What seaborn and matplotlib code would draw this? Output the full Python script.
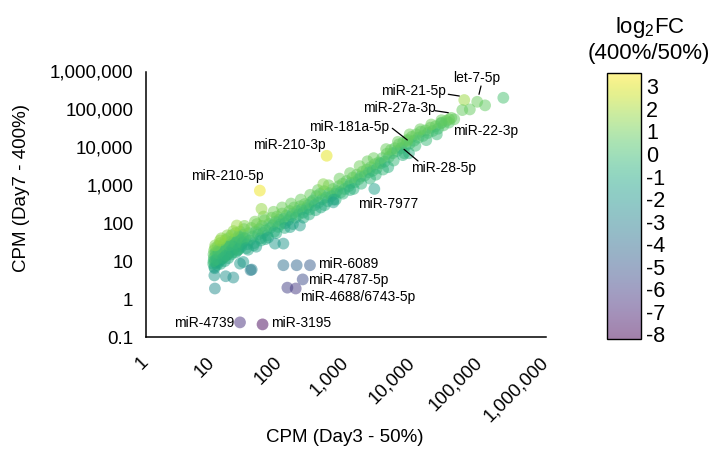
import numpy as np
import pandas as pd
import matplotlib
matplotlib.use("Agg")
import matplotlib.pyplot as plt
import seaborn as sns
from matplotlib.colors import Normalize, ListedColormap
from matplotlib.cm import ScalarMappable
from matplotlib.lines import Line2D
from matplotlib.ticker import FixedLocator, FuncFormatter, NullLocator

# ---------------- data (CPM values) ----------------
low_day3 = [10.2, 10.4, 10.3, 10.6, 10.5, 10.8, 11.0, 10.9, 11.3, 11.5,
            11.8, 12.0, 12.2, 12.5, 12.4, 12.9, 13.0, 13.4, 13.8, 14.0,
            14.2, 14.6, 15.0, 15.3, 15.6, 16.0, 16.4, 16.8, 17.0, 17.5,
            18.0, 18.4, 18.8, 19.2, 19.8, 20.3, 20.8, 21.5, 22.0, 22.6,
            23.0, 23.8, 24.5, 25.0, 25.8, 26.5, 27.0, 28.0, 28.8, 29.5,
            10.7, 11.6, 12.7, 13.6, 14.8, 16.2, 17.8, 19.5, 21.0, 23.5,
            11.1, 12.3, 13.2, 15.2, 17.2, 19.0, 22.3, 24.8, 26.8, 29.0,
            10.3, 11.4, 12.1, 13.3, 14.4, 15.8, 17.6, 19.9, 21.8, 24.1,
            26.0, 27.8, 10.9, 13.5, 16.6, 20.5]
low_day7 = [8.5, 12, 15, 7.0, 19, 10, 13.5, 22, 9.0, 16,
            11, 25, 14, 9.5, 18, 13, 30, 16, 12, 22,
            17, 28, 14, 20, 36, 18, 24, 15, 40, 22,
            26, 19, 33, 48, 23, 30, 21, 38, 55, 27,
            34, 25, 45, 31, 60, 36, 28, 50, 40, 70,
            6.5, 8.0, 10.5, 11.5, 13, 15, 17, 20, 24, 19,
            17, 20, 8.5, 10, 12, 15, 17, 21, 24, 33,
            10, 11, 16, 19, 12, 14, 26, 17, 30, 20,
            42, 30, 26, 40, 48, 62]
low_fc = [-0.3, 0.2, 0.5, -0.8, 1.0, -0.2, 0.2, 1.3, -0.3, 0.5,
          -0.2, 1.1, 0.1, -0.5, 0.5, -0.1, 1.2, 0.1, -0.3, 0.4,
          0.2, 0.9, -0.3, 0.2, 1.1, 0.0, 0.3, -0.4, 1.1, 0.2,
          0.3, -0.1, 0.5, 1.0, 0.0, 0.2, -0.2, 0.5, 1.1, 0.1,
          0.3, -0.2, 0.5, 0.0, 0.8, 0.1, -0.2, 0.5, 0.2, 0.8,
          -1.3, -1.1, -0.8, -0.9, -0.8, -0.7, -0.8, -0.6, -0.5, -1.1,
          0.4, 0.4, -1.1, -1.1, -1.0, -0.8, -0.9, -0.7, -0.6, -0.2,
          -0.2, -0.3, 0.0, 0.1, -0.5, -0.4, 0.1, -0.4, 0.0, -0.4,
          0.2, -0.2, 1.4, 1.5, 1.5, 1.5]

mid_day3 = [31, 33, 35, 36, 38, 40, 42, 44, 46, 48,
            50, 52, 55, 57, 60, 63, 66, 70, 73, 77,
            80, 84, 88, 92, 96, 100, 105, 110, 116, 122,
            128, 135, 142, 150, 158, 166, 175, 185, 195, 205,
            215, 228, 240, 255, 270, 285, 300, 34, 45, 62,
            32, 41, 53, 68, 90, 120, 160, 230, 280,
            30, 43, 58, 82, 110, 150, 210, 290]
mid_day7 = [40, 28, 55, 35, 75, 45, 30, 60, 95, 50,
            70, 40, 85, 55, 120, 65, 48, 95, 75, 140,
            88, 60, 110, 150, 80, 125, 95, 180, 130, 100,
            160, 120, 210, 150, 180, 260, 140, 210, 170, 280,
            230, 190, 320, 250, 300, 230, 360, 20, 24, 38,
            22, 26, 35, 42, 55, 75, 95, 140, 170,
            85, 110, 150, 200, 260, 330, 420, 560]
mid_fc = [0.1, -0.4, 0.5, -0.1, 0.9, 0.1, -0.5, 0.4, 1.0, 0.0,
          0.4, -0.4, 0.6, 0.0, 0.9, 0.1, -0.4, 0.4, 0.0, 0.9,
          0.1, -0.6, 0.3, 0.7, -0.2, 0.2, -0.1, 0.8, 0.1, -0.3,
          0.3, -0.1, 0.6, 0.0, 0.1, 0.8, -0.3, 0.2, -0.1, 0.5,
          0.1, -0.3, 0.6, 0.0, 0.2, -0.2, 0.3, -1.3, -1.5, -1.1,
          -0.9, -1.0, -0.9, -1.0, -0.9, -0.8, -0.9, -0.8, -0.7,
          1.3, 1.2, 1.1, 1.1, 1.0, 0.9, 0.9, 0.9]

upper_day3 = [320, 340, 360, 385, 410, 440, 470, 500, 530, 560,
              600, 640, 680, 730, 780, 830, 890, 950, 1020, 1100,
              1180, 1260, 1350, 1450, 1550, 1660, 1780, 1900, 2050, 2200,
              2350, 2500, 2700, 2900, 3100, 420, 650, 1150,
              350, 480, 700, 900, 1300, 1700, 2300, 2800,
              380, 550, 800, 1150, 1600, 2100, 2600]
upper_day7 = [400, 300, 520, 350, 600, 430, 700, 480, 380, 620,
              520, 800, 600, 700, 950, 650, 1100, 800, 1300, 950,
              1150, 1600, 1200, 1900, 1450, 1700, 2300, 1800, 2600, 2200,
              3000, 2400, 3600, 2800, 4000, 260, 420, 750,
              220, 300, 420, 600, 800, 1100, 1500, 1900,
              750, 1000, 1500, 2100, 3200, 4300, 5200]
upper_fc = [0.2, -0.3, 0.4, -0.2, 0.5, 0.0, 0.6, 0.1, -0.4, 0.3,
            0.0, 0.6, 0.1, 0.1, 0.6, -0.2, 0.7, 0.0, 0.6, 0.0,
            0.1, 0.7, 0.0, 0.7, 0.2, 0.2, 0.7, 0.1, 0.6, 0.2,
            0.5, 0.0, 0.6, 0.0, 0.6, -1.0, -1.0, -0.7,
            -0.7, -0.8, -0.6, -0.5, -0.6, -0.5, -0.5, -0.4,
            0.9, 1.0, 0.9, 0.9, 1.0, 0.9, 0.9]

high_day3 = [3300, 3500, 3800, 4100, 4400, 4700, 5000, 5400, 5800, 6200,
             6700, 7200, 7800, 8400, 9000, 9700, 10500, 11300, 12200, 13200,
             14300, 15500, 17000, 18500, 20000, 22000, 24000, 26500, 29000, 32000,
             35000, 38000, 42000, 4300, 8800,
             3600, 5200, 7500, 11000, 16000, 23000,
             4000, 6000, 9000, 13000, 19000, 27000]
high_day7 = [3800, 5200, 4200, 6800, 5600, 8500, 7000, 9500, 8000, 12000,
             9500, 13500, 11000, 16000, 12500, 19000, 15000, 22000, 18000, 26000,
             20000, 28000, 24000, 33000, 27000, 36000, 31000, 43000, 38000, 50000,
             45000, 60000, 55000, 3000, 7000,
             2600, 4500, 7000, 11000, 15500, 22000,
             9000, 14000, 22000, 30000, 40000, 52000]
high_fc = [0.1, 0.6, 0.0, 0.7, 0.2, 0.8, 0.3, 0.6, 0.2, 0.8,
           0.2, 0.6, 0.1, 0.7, 0.1, 0.7, 0.2, 0.7, 0.2, 0.7,
           0.2, 0.6, 0.2, 0.7, 0.2, 0.6, 0.1, 0.6, 0.3, 0.7,
           0.4, 0.9, 0.7, -0.7, -0.8,
           -0.4, -0.3, -0.3, -0.2, -0.2, -0.2,
           0.9, 0.9, 1.0, 0.9, 1.0, 0.9]

off_day3 = [10.8, 10.6, 15.7, 20.4, 38.5, 37, 28.8, 25.7, 115, 86, 204, 145, 645,
            23, 54, 12.9, 457]
off_day7 = [1.9, 4.2, 4.0, 3.7, 6.0, 5.8, 9.5, 8.6, 29, 29, 87, 79, 355,
            87, 239, 35, 1070]
off_fc = [-2.5, -2.0, -2.2, -2.3, -3.0, -3.2, -1.8, -1.8, -2.0, -1.8, -1.6, -1.4, -1.5,
          1.8, 1.7, 1.7, 1.4]

top_names = ["miR-210-5p", "miR-210-3p", "miR-21-5p", "let-7-5p", "let-7-5p",
             "", "", "", "miR-27a-3p", "miR-22-3p", "miR-181a-5p", "miR-28-5p",
             "miR-7977", "miR-6089", "miR-6089", "miR-6089", "miR-4787-5p",
             "miR-4688/6743-5p", "miR-4688/6743-5p", "miR-4739", "miR-3195"]
top_day3 = [51, 513, 59400, 93000, 122000,
            72000, 55500, 229000, 35300, 27200, 8300, 7100,
            2660, 115, 182, 288, 224,
            132, 176, 25.7, 56]
top_day7 = [724, 6000, 177000, 159000, 128000,
            100000, 96000, 203000, 55000, 44900, 14800, 6240,
            800, 7.8, 7.8, 7.8, 3.3,
            2.0, 1.9, 0.243, 0.215]
top_fc = [3.3, 3.1, 1.8, 0.9, 0.7,
          0.8, 0.8, 0.1, 0.9, 0.6, 0.8, -0.6,
          -1.5, -3.8, -4.3, -4.8, -5.5,
          -6.0, -6.3, -6.6, -8.0]

axis_ticks = [0.1, 1, 10, 100, 1000, 10000, 100000, 1000000]
cbar_ticks = list(range(-8, 4))
fc_range = (-8.2, 3.6)

# ---------------- layout (figure pixels) ----------------
label_text_px = {
    "let-7-5p": (453, 78), "miR-21-5p": (381, 91), "miR-27a-3p": (362.7, 107.7),
    "miR-22-3p": (452.7, 131), "miR-181a-5p": (309.3, 126.7), "miR-28-5p": (410.7, 168.3),
    "miR-210-3p": (252.7, 145), "miR-210-5p": (190.7, 176), "miR-7977": (358.3, 204),
    "miR-6089": (318, 264.5), "miR-4787-5p": (308.3, 280), "miR-4688/6743-5p": (300, 296.5),
    "miR-4739": (174, 323.3), "miR-3195": (271, 323.3),
}
leader_px = {
    "let-7-5p": ((481, 86), (479, 94.3)),
    "miR-21-5p": ((448.3, 94.3), (459.3, 96)),
    "miR-27a-3p": ((435, 110.7), (448.3, 112.7)),
    "miR-181a-5p": ((392.3, 128.3), (407.3, 140)),
    "miR-28-5p": ((404, 149.3), (418, 161)),
}

df = pd.DataFrame({
    "day3": low_day3 + mid_day3 + upper_day3 + high_day3 + off_day3 + top_day3,
    "day7": low_day7 + mid_day7 + upper_day7 + high_day7 + off_day7 + top_day7,
    "fc": low_fc + mid_fc + upper_fc + high_fc + off_fc + top_fc,
})

sns.set_style("white")
plt.rcParams["font.family"] = ["Liberation Sans", "DejaVu Sans"]
plt.rcParams["axes.unicode_minus"] = False
plt.rcParams["mathtext.fontset"] = "custom"
plt.rcParams["mathtext.rm"] = "Liberation Sans"
plt.rcParams["text.color"] = "black"
plt.rcParams["axes.labelcolor"] = "black"
plt.rcParams["xtick.color"] = "black"
plt.rcParams["ytick.color"] = "black"

W, H = 715, 458
fig = plt.figure(figsize=(W / 100, H / 100), dpi=100)
ax = fig.add_axes([146 / W, 1 - 337 / H, 400 / W, (337 - 71.5) / H])

sns.scatterplot(data=df, x="day3", y="day7", hue="fc", palette="viridis",
                hue_norm=fc_range, s=72, alpha=0.5, linewidth=0,
                legend=False, ax=ax)
ax.set_xscale("log")
ax.set_yscale("log")
ax.set_xlim(axis_ticks[1], axis_ticks[-1])
ax.set_ylim(axis_ticks[0], axis_ticks[-1])

def fmt(v, pos=None):
    if v < 1:
        return f"{v:g}"
    return f"{int(round(v)):,}"

ax.xaxis.set_major_locator(FixedLocator(axis_ticks[1:]))
ax.yaxis.set_major_locator(FixedLocator(axis_ticks))
ax.xaxis.set_minor_locator(NullLocator())
ax.yaxis.set_minor_locator(NullLocator())
ax.xaxis.set_major_formatter(FuncFormatter(fmt))
ax.yaxis.set_major_formatter(FuncFormatter(fmt))

for side in ["top", "right"]:
    ax.spines[side].set_visible(False)
for side in ["left", "bottom"]:
    ax.spines[side].set_linewidth(1.1)
    ax.spines[side].set_color("black")
ax.tick_params(axis="both", direction="out", length=7.5, width=1.1, color="black",
               labelsize=13.5, labelcolor="black")
ax.tick_params(axis="y", pad=1.5)
ax.tick_params(axis="x", pad=9)
for lbl in ax.get_xticklabels():
    lbl.set_rotation(45)
    lbl.set_ha("right")
    lbl.set_va("center")
    lbl.set_rotation_mode("anchor")

ax.set_xlabel("CPM (Day3 - 50%)", fontsize=13.5, color="black")
ax.xaxis.set_label_coords((345 - 146) / 400, (337 - 438) / 265.5)
ax.xaxis.label.set_va("center")
ax.set_ylabel("CPM (Day7 - 400%)", fontsize=13.5, color="black")
ax.yaxis.set_label_coords((22 - 146) / 400, (337 - 188) / 265.5)
ax.yaxis.label.set_va("center")

# annotations
for name, (tx, ty) in label_text_px.items():
    fig.text(tx / W, 1 - ty / H, name, ha="left", va="center", fontsize=10, color="black")
for name, ((x0, y0), (x1, y1)) in leader_px.items():
    fig.add_artist(Line2D([x0 / W, x1 / W], [1 - y0 / H, 1 - y1 / H],
                          transform=fig.transFigure, color="black", lw=0.9))

# colorbar (viridis at half opacity over white)
base = plt.get_cmap("viridis")(np.linspace(0, 1, 256))[:, :3]
blend = ListedColormap(0.5 * base + 0.5)
cax = fig.add_axes([607.3 / W, 1 - 339 / H, 33.4 / W, (339 - 72.7) / H])
sm = ScalarMappable(norm=Normalize(*fc_range), cmap=blend)
cb = fig.colorbar(sm, cax=cax, ticks=cbar_ticks)
cb.outline.set_linewidth(1.0)
cb.outline.set_edgecolor("black")
cax.tick_params(direction="in", left=True, right=True, length=4, width=1.0,
                color="#333333", labelsize=15.5, pad=4, labelcolor="black")
cax.yaxis.set_ticks_position("both")
cax.yaxis.set_label_position("right")
cax.set_yticklabels([str(t) for t in cbar_ticks])
fig.text(650 / W, 1 - 28 / H, r"log$_\mathregular{2}$FC", ha="center", va="center",
         fontsize=16, color="black")
fig.text(649 / W, 1 - 53 / H, "(400%/50%)", ha="center", va="center", fontsize=16,
         color="black")

fig.savefig("out.png", dpi=100)
